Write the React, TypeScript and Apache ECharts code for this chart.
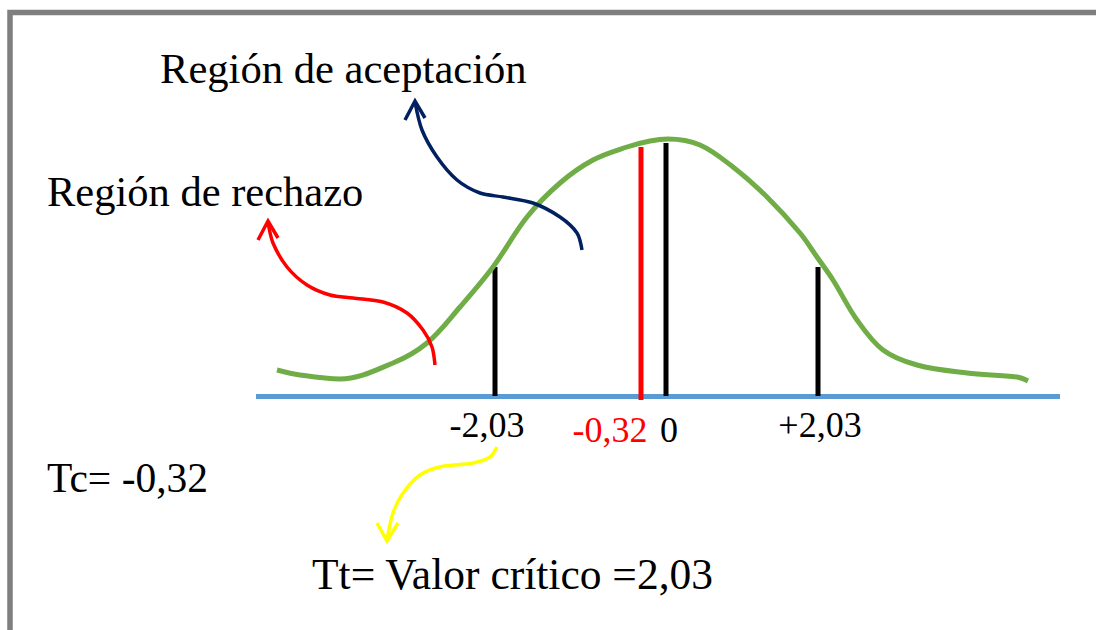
import React, { useEffect, useRef } from "react";
import * as echarts from "echarts";

// Diagram coordinates (x to the right, y downward), in diagram units
const curveX = [277, 300, 340, 393, 427, 460, 493, 527, 560, 593, 627, 650, 668, 700, 733, 767, 800, 817, 833, 857, 883, 917, 967, 1017, 1028];
const curveY = [370, 375, 379, 363, 343, 307, 267, 217, 183, 160, 147, 141, 139, 145, 167, 197, 233, 257, 280, 320, 350, 365, 373, 377, 381];

const axisX = [256, 1060];
const axisY = [396.5, 396.5];

const tickX = [495, 641, 666, 818];
const tickTop = [267, 147, 143, 267];
const tickBottom = [396, 400, 396, 396];
const tickColors = ["#000000", "#FF0000", "#000000", "#000000"];

const redArrowX = [435, 432, 423, 407, 383, 353, 330, 307, 287, 273, 268];
const redArrowY = [365, 347, 330, 313, 302, 298, 295, 285, 267, 243, 222];
const redHeadX = [258, 268, 278];
const redHeadY = [240, 221, 238];

const navyArrowX = [582, 577, 560, 533, 503, 480, 457, 437, 422, 415];
const navyArrowY = [250, 233, 217, 203, 197, 193, 180, 157, 130, 102];
const navyHeadX = [405, 415, 425];
const navyHeadY = [120, 101, 118];

const yellowArrowX = [497, 490, 473, 440, 420, 403, 393, 387];
const yellowArrowY = [447, 457, 463, 467, 475, 493, 513, 540];
const yellowHeadX = [377, 387, 398];
const yellowHeadY = [523, 541, 523];

const tickLabels = ["-2,03", "-0,32", "0", "+2,03"];
const tickLabelColors = ["#000000", "#FF0000", "#000000", "#000000"];
const tickLabelX = [487, 610, 669, 820];
const tickLabelY = [425, 430, 430, 425];

const titleAccept = "Región de aceptación";
const titleReject = "Región de rechazo";
const tcText = "Tc= -0,32";
const ttText = "Tt= Valor crítico =2,03";

const zip = (xs: number[], ys: number[]) => xs.map((x, i) => [x, ys[i]]);

const FONT = "'Liberation Serif', 'Times New Roman', serif";

export default function App() {
  const ref = useRef<HTMLDivElement>(null);
  useEffect(() => {
    if (!ref.current) return;
    const chart = echarts.init(ref.current, undefined, { renderer: "svg" });

    const lineSeries = (data: number[][], color: string, width: number, smooth: number | boolean) => ({
      type: "line",
      data,
      smooth,
      symbol: "none",
      silent: true,
      clip: false,
      lineStyle: { color, width, cap: "butt", join: "miter" },
    });

    const series: any[] = [];
    series.push(lineSeries(zip(axisX, axisY), "#5B9BD5", 5, false));
    tickX.forEach((x, i) => {
      series.push(lineSeries([[x, tickTop[i]], [x, tickBottom[i]]], tickColors[i], 5, false));
    });
    series.push(lineSeries(zip(curveX, curveY), "#70AD47", 5, 0.35));
    series.push(lineSeries(zip(redArrowX, redArrowY), "#FF0000", 3.5, 0.3));
    series.push(lineSeries(zip(redHeadX, redHeadY), "#FF0000", 3.5, false));
    series.push(lineSeries(zip(navyArrowX, navyArrowY), "#002060", 3.5, 0.3));
    series.push(lineSeries(zip(navyHeadX, navyHeadY), "#002060", 3.5, false));
    series.push(lineSeries(zip(yellowArrowX, yellowArrowY), "#FFFF00", 3.5, 0.3));
    series.push(lineSeries(zip(yellowHeadX, yellowHeadY), "#FFFF00", 3.5, false));

    const text = (t: string, x: number, y: number, size: number, color: string, align: string) => ({
      type: "text",
      x,
      y,
      silent: true,
      style: {
        text: t,
        fill: color,
        font: `${size}px ${FONT}`,
        align,
        verticalAlign: "middle",
      },
    });

    const graphic: any[] = [
      {
        type: "rect",
        shape: { x: 10, y: 12.5, width: 1200, height: 800 },
        silent: true,
        style: { fill: "none", stroke: "#7F7F7F", lineWidth: 5.5 },
      },
      text(titleAccept, 160, 68, 42.6, "#000000", "left"),
      text(titleReject, 47, 191, 42.5, "#000000", "left"),
      text(tcText, 47, 478, 41.5, "#000000", "left"),
      text(ttText, 312, 574, 43.5, "#000000", "left"),
      ...tickLabels.map((t, i) => text(t, tickLabelX[i], tickLabelY[i], 36, tickLabelColors[i], "center")),
    ];

    chart.setOption({
      animation: false,
      backgroundColor: "#FFFFFF",
      grid: { left: 0, right: 0, top: 0, bottom: 0 },
      xAxis: { type: "value", min: 0, max: 1096, show: false },
      yAxis: { type: "value", min: 0, max: 630, inverse: true, show: false },
      series,
      graphic,
    });
    return () => chart.dispose();
  }, []);
  return <div ref={ref} style={{ position: "absolute", left: 0, top: 0, width: 1096, height: 630 }} />;
}
